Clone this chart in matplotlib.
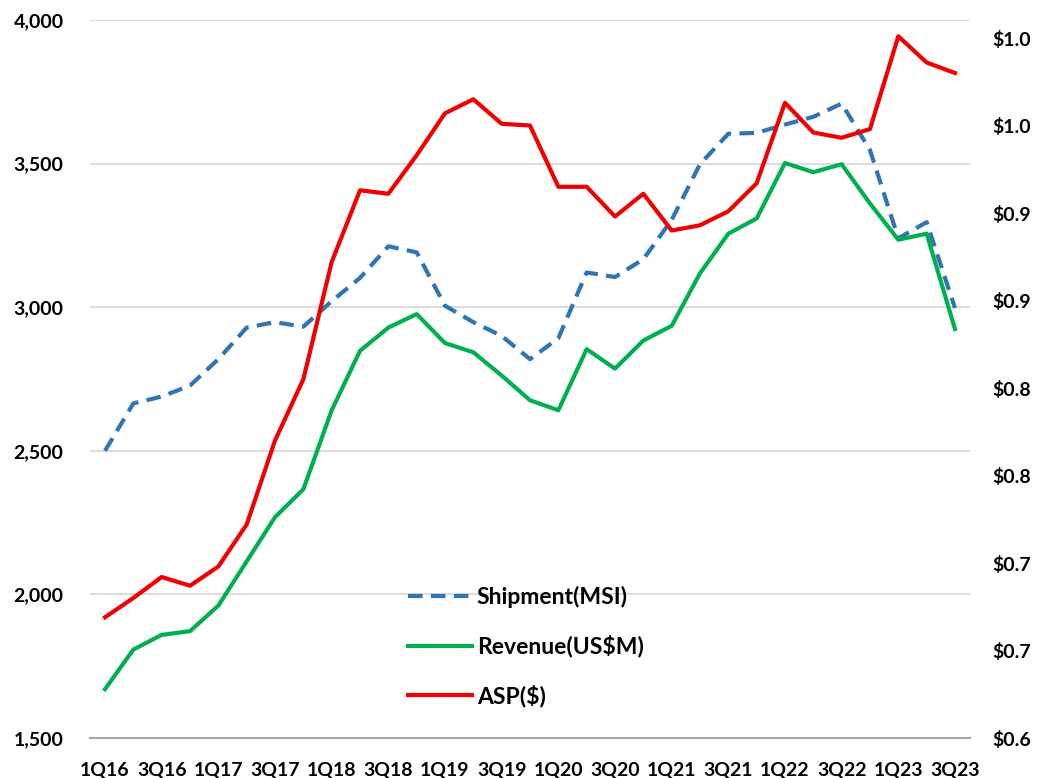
import matplotlib
matplotlib.use("Agg")
import matplotlib.pyplot as plt
from matplotlib.ticker import StrMethodFormatter
from matplotlib.lines import Line2D

quarters = ["1Q16", "2Q16", "3Q16", "4Q16", "1Q17", "2Q17", "3Q17", "4Q17",
            "1Q18", "2Q18", "3Q18", "4Q18", "1Q19", "2Q19", "3Q19", "4Q19",
            "1Q20", "2Q20", "3Q20", "4Q20", "1Q21", "2Q21", "3Q21", "4Q21",
            "1Q22", "2Q22", "3Q22", "4Q22", "1Q23", "2Q23", "3Q23"]

shipment = [2500, 2665, 2689, 2727, 2819, 2929, 2948, 2932,
            3021, 3102, 3212, 3191, 3005, 2948, 2900, 2819,
            2892, 3121, 3105, 3167, 3304, 3498, 3604, 3607,
            3636, 3663, 3709, 3547, 3240, 3296, 2997]

revenue = [1670, 1808, 1859, 1872, 1961, 2115, 2269, 2366,
           2641, 2848, 2929, 2976, 2875, 2843, 2762, 2676,
           2641, 2854, 2786, 2884, 2935, 3118, 3256, 3309,
           3502, 3470, 3498, 3361, 3235, 3256, 2924]

asp = [0.669, 0.680, 0.692, 0.687, 0.698, 0.722, 0.770, 0.805,
       0.872, 0.913, 0.911, 0.933, 0.957, 0.965, 0.951, 0.950,
       0.915, 0.915, 0.898, 0.911, 0.890, 0.893, 0.901, 0.917,
       0.963, 0.946, 0.943, 0.948, 1.001, 0.986, 0.980]

left_ticks = [1500, 2000, 2500, 3000, 3500, 4000]
right_ticks = [0.60, 0.65, 0.70, 0.75, 0.80, 0.85, 0.90, 0.95, 1.00]
right_labels = ["$0.6", "$0.7", "$0.7", "$0.8", "$0.8", "$0.9", "$0.9", "$1.0", "$1.0"]

blue = "#2E75B6"
green = "#00B050"
red = "#F00000"

plt.rcParams['font.family'] = ['Lato', 'DejaVu Sans']
plt.rcParams['font.weight'] = 'bold'

fig = plt.figure(figsize=(10.4, 7.78), dpi=100)
ax = fig.add_axes([90/1040, 1 - 738/778, 880/1040, 718/778])
ax2 = ax.twinx()

x = list(range(len(quarters)))
ax.plot(x, shipment, color=blue, lw=3, linestyle=(0, (3.5, 2)), label="Shipment(MSI)")
ax.plot(x, revenue, color=green, lw=3, label="Revenue(US$M)")
ax2.plot(x, asp, color=red, lw=3, label="ASP($)")

ax.set_xlim(-0.53, 30.53)
ax.set_ylim(1500, 4000)
ax2.set_ylim(0.6, 1.0103)

ax.set_yticks(left_ticks)
ax.yaxis.set_major_formatter(StrMethodFormatter("{x:,.0f}"))
ax2.set_yticks(right_ticks)
ax2.set_yticklabels(right_labels)
ax.set_xticks(x[::2])
ax.set_xticklabels(quarters[::2])

ax.grid(axis='y', color='#D9D9D9', lw=1.3)
ax.set_axisbelow(True)
for a in (ax, ax2):
    for s in a.spines.values():
        s.set_visible(False)
ax.spines['bottom'].set_visible(True)
ax.spines['bottom'].set_color('#A6A6A6')
ax.spines['bottom'].set_linewidth(1.5)

ax.tick_params(axis='y', length=0, pad=19, labelsize=14)
ax.tick_params(axis='x', length=0, pad=17, labelsize=14)
ax2.tick_params(axis='y', length=0, pad=16, labelsize=14)

handles = [Line2D([], [], color=blue, lw=3, linestyle=(0, (3.5, 2))),
           Line2D([], [], color=green, lw=3),
           Line2D([], [], color=red, lw=3)]
labels = ["Shipment(MSI)", "Revenue(US$M)", "ASP($)"]
ax2.legend(handles, labels, loc='upper left', bbox_to_anchor=(0.361, 0.212),
           frameon=False, fontsize=16.5, handlelength=2.8, handletextpad=0.22,
           labelspacing=1.18, borderpad=0, borderaxespad=0)

fig.savefig("out.png", dpi=100)
